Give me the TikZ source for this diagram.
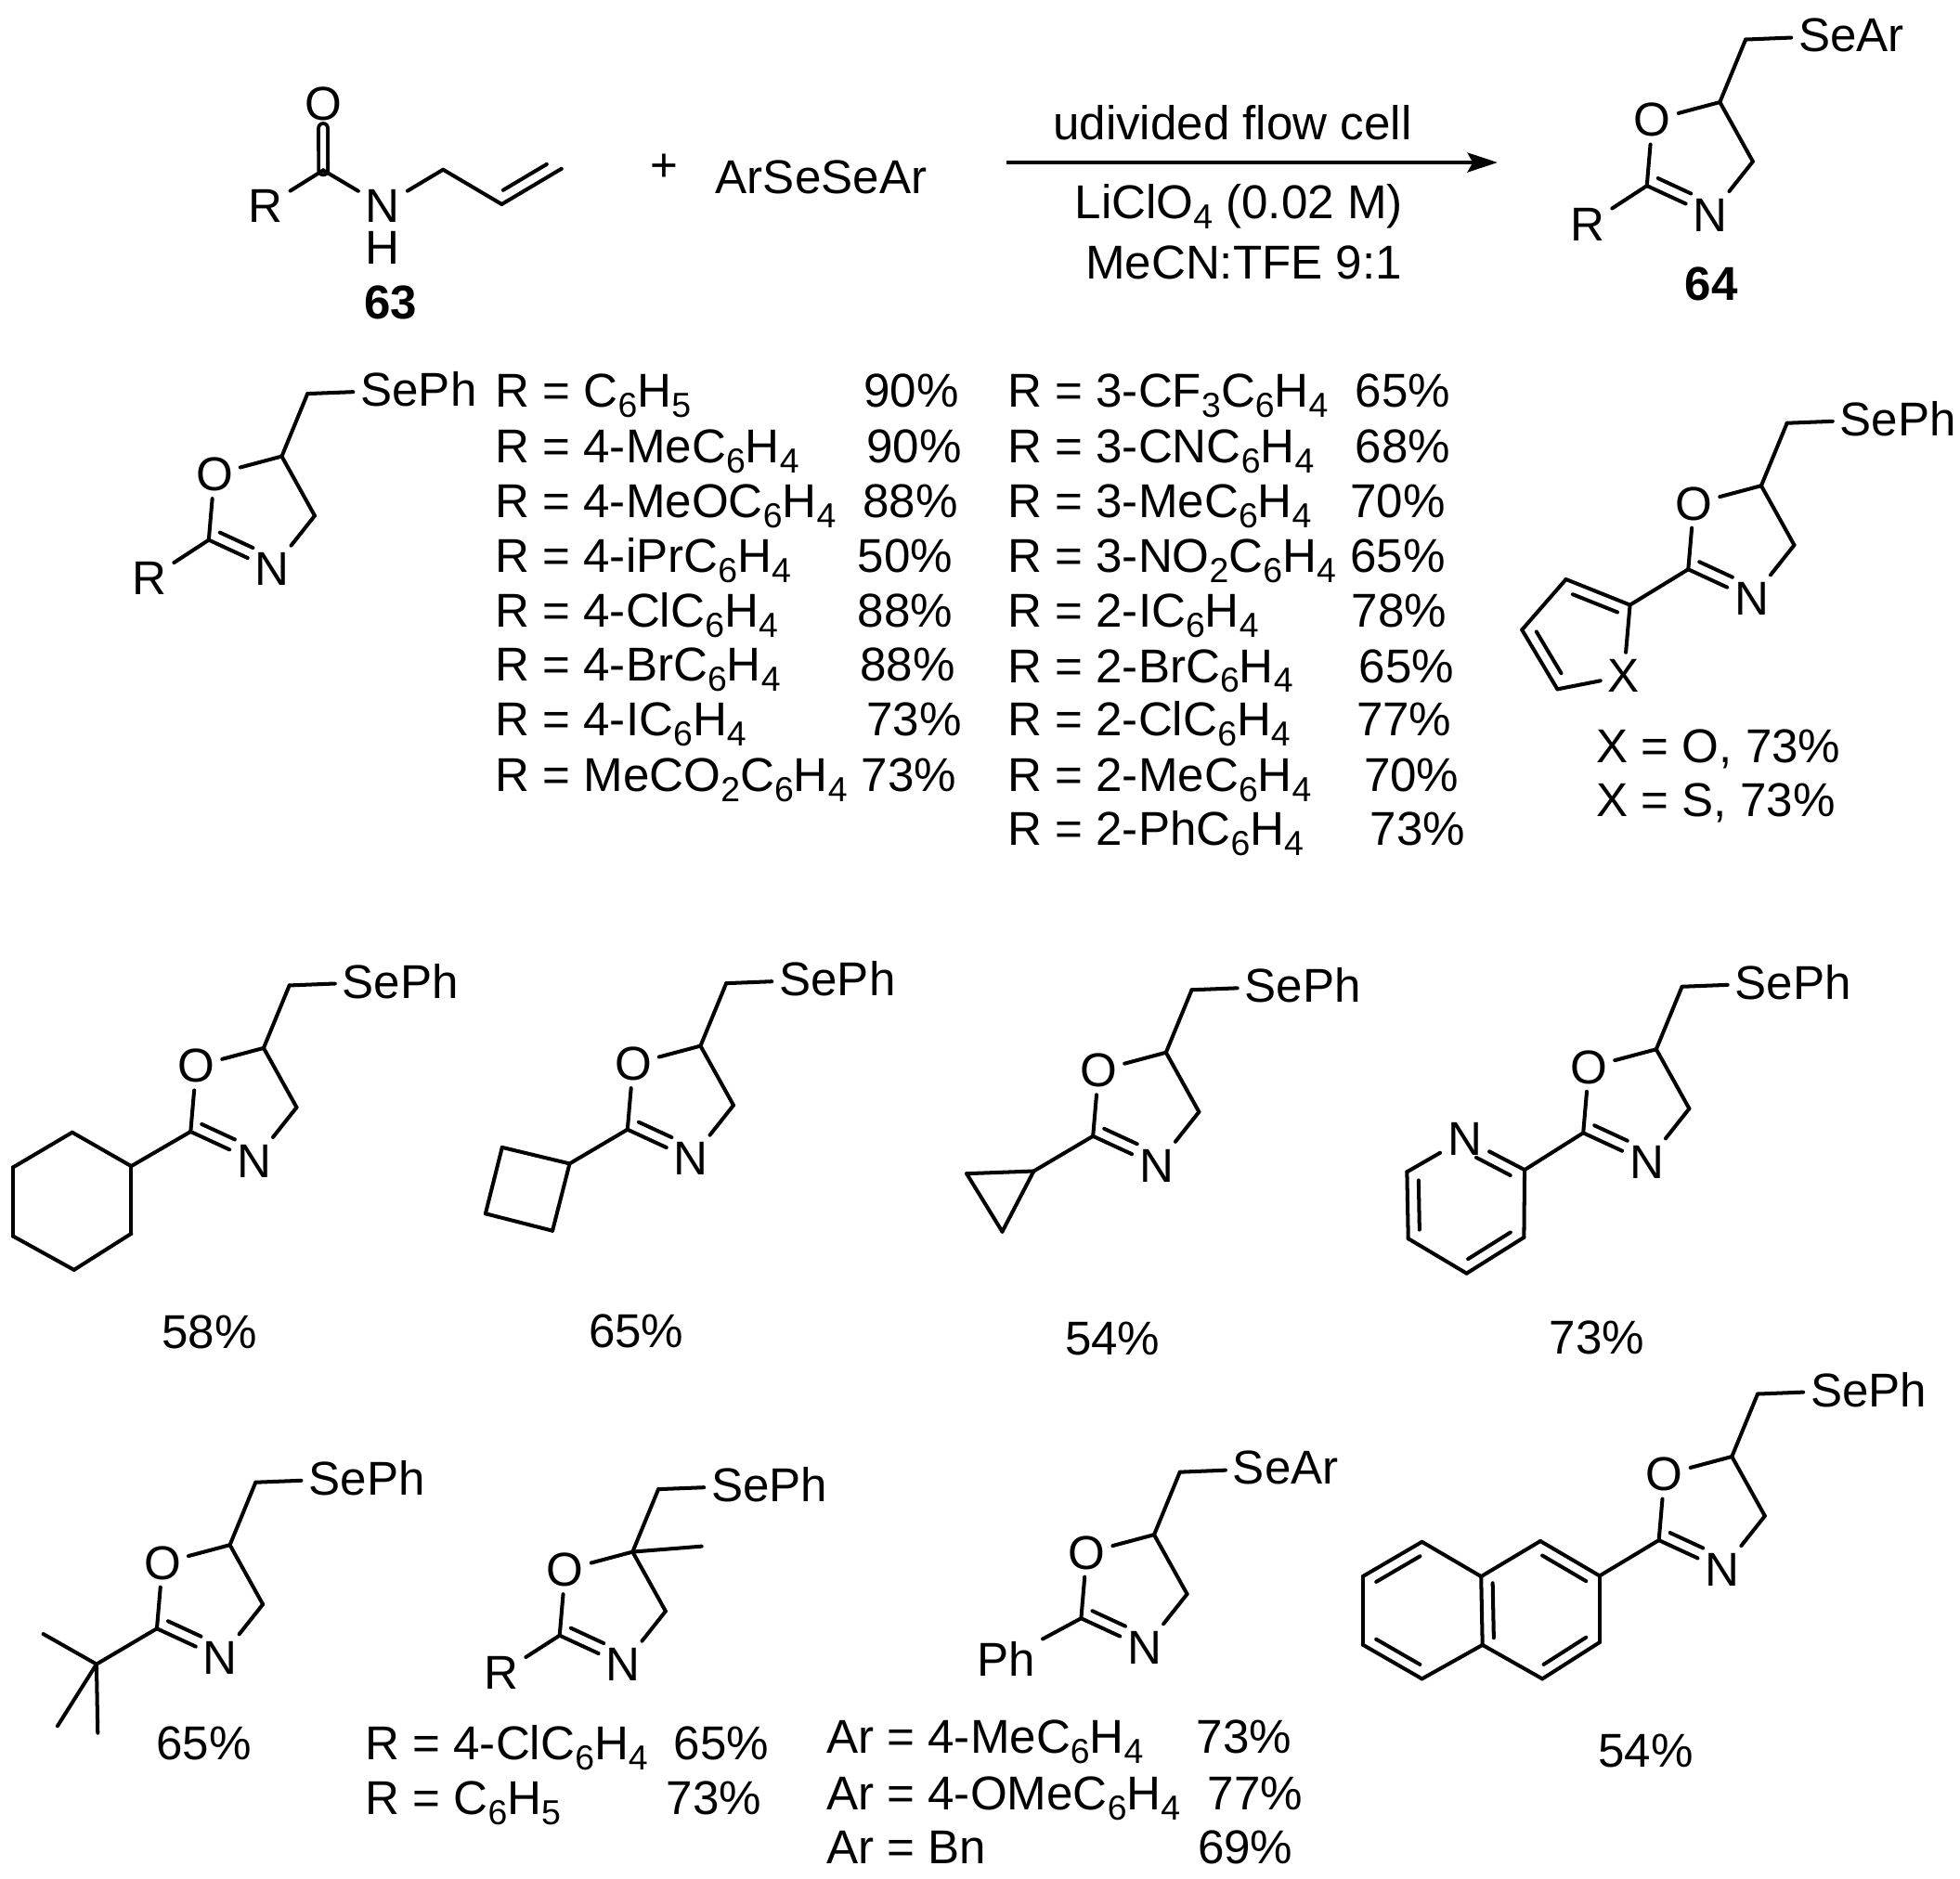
\documentclass[tikz,border=0pt]{standalone}
\usepackage{fontspec}
\setmainfont{Liberation Sans}
\usetikzlibrary{arrows.meta,calc}

\tikzset{
  bond/.style={line width=.85pt,line cap=round,line join=round},
  dblbond/.style={double,double distance=1.3pt,line width=.8pt},
  lab/.style={inner sep=0pt,anchor=base},
  labw/.style={inner sep=0pt,anchor=base west,xshift=-.015cm},
}

\newcommand{\sbs}[1]{\raisebox{-2.3pt}{\fontsize{7.9pt}{8pt}\selectfont #1}}
\newcommand{\innerbond}[4]{\draw[bond] ($(#1)!#3!(#2)!2.6pt!90:(#2)$) -- ($(#1)!#4!(#2)!2.6pt!90:(#2)$);}

% ring with its side chain, placed by the carbon between O and N
\newcommand{\oxazoline}[3]{
  \begin{scope}[shift={(#2)},name prefix=#1-]
    \coordinate (c2) at (0,0);
    \coordinate (c5) at (58.4,-66.9);
    \coordinate (c4) at (84.8,-19.4);
    \coordinate (ch) at (79,-117);
    \node (o) at (4.5,-52.5) {O};
    \node (n) at (50.8,23.5) {N};
    \node[anchor=west] (se) at (115.5,-120.5) {#3};
    \foreach \from/\to in {c2/o,o/c5,c5/c4,c4/n,c2/n,c5/ch,ch/se}
      \draw[bond] (\from) -- (\to);
    \innerbond{c2}{n}{.1}{.62}
  \end{scope}
}

\begin{document}
\begin{tikzpicture}
  [x=.01cm,y=-.01cm,every node/.style={inner sep=1.5pt,font=\fontsize{10.8pt}{13pt}\selectfont}]
  \useasboundingbox (0,0) rectangle (1568,1502.7);

  % reaction
  \coordinate (c1) at (258.6,136.2);
  \coordinate (c2) at (354.5,135.7);
  \coordinate (c3) at (401.4,163.4);
  \coordinate (c4) at (449.2,135);
  \node (o1) at (258.5,83) {O};
  \node (r1) at (212.5,165) {R};
  \node (n1) at (306.3,164.5) {N};
  \node[inner sep=0pt] (h1) at (306.3,198) {H};
  \draw[bond,dblbond] (o1) -- (c1);
  \foreach \from/\to in {c1/r1,c1/n1,n1/c2,c2/c3,c3/c4}
    \draw[bond] (\from) -- (\to);
  \innerbond{c3}{c4}{.12}{.85}
  \node[lab,font=\fontsize{10.8pt}{13pt}\selectfont\bfseries] (n63) at (312.5,255) {63};
  \node (plus) at (531.5,134) {+};
  \node[lab] (disel) at (657,155) {ArSeSeAr};

  \coordinate (arrowa) at (805,130);
  \coordinate (arrowb) at (1198,130);
  \draw[line width=1pt,-{Stealth[length=6.8pt,width=4.4pt,inset=1.2pt]}] (arrowa) -- (arrowb);
  \node[lab] (cond1) at (986,112) {udivided flow cell};
  \node[lab] (cond2) at (991,175) {LiClO\sbs{4} (0.02 M)};
  \node[lab] (cond3) at (995,223) {MeCN:TFE 9:1};

  \oxazoline{pr}{1317.5,148.6}{SeAr}
  \node (rpr) at (1270,179.6) {R};
  \draw[bond] (pr-c2) -- (rpr);
  \node[lab,font=\fontsize{10.8pt}{13pt}\selectfont\bfseries] (n64) at (1369,240) {64};

  % aryl series
  \oxazoline{ar}{167,432}{SePh}
  \node (rar) at (119.5,463) {R};
  \draw[bond] (ar-c2) -- (rar);

  \foreach \i/\y/\name/\px/\pct in {
    1/326/C\sbs{6}H\sbs{5}/692/90,
    2/370/4-MeC\sbs{6}H\sbs{4}/694/90,
    3/414/4-MeOC\sbs{6}H\sbs{4}/691/88,
    4/458/4-iPrC\sbs{6}H\sbs{4}/687/50,
    5/502/4-ClC\sbs{6}H\sbs{4}/687/88,
    6/545/4-BrC\sbs{6}H\sbs{4}/689/88,
    7/589/4-IC\sbs{6}H\sbs{4}/694/73,
    8/633/MeCO\sbs{2}C\sbs{6}H\sbs{4}/690/73}
    \node[labw] (la\i) at (397,\y) {R = \name}
      node[labw] (pa\i) at (\px,\y) {\pct\%};

  \foreach \i/\y/\name/\px/\pct in {
    1/326/3-CF\sbs{3}C\sbs{6}H\sbs{4}/1085/65,
    2/370/3-CNC\sbs{6}H\sbs{4}/1085/68,
    3/414/3-MeC\sbs{6}H\sbs{4}/1081/70,
    4/458/3-NO\sbs{2}C\sbs{6}H\sbs{4}/1081/65,
    5/502/2-IC\sbs{6}H\sbs{4}/1082/78,
    6/546/2-BrC\sbs{6}H\sbs{4}/1088/65,
    7/589/2-ClC\sbs{6}H\sbs{4}/1086/77,
    8/633/2-MeC\sbs{6}H\sbs{4}/1092/70,
    9/676/2-PhC\sbs{6}H\sbs{4}/1097/73}
    \node[labw] (lb\i) at (807,\y) {R = \name}
      node[labw] (pb\i) at (\px,\y) {\pct\%};

  % furan / thiophene
  \oxazoline{fu}{1350.6,455.5}{SePh}
  \coordinate (f1) at (1304,484);
  \coordinate (f2) at (1252.8,463.5);
  \coordinate (f3) at (1217.6,503.9);
  \coordinate (f4) at (1245.9,551.4);
  \node (fx) at (1299,541) {X};
  \foreach \from/\to in {fu-c2/f1,f1/f2,f2/f3,f3/f4,f4/fx,fx/f1}
    \draw[bond] (\from) -- (\to);
  \innerbond{f1}{f2}{.13}{.83}
  \innerbond{f3}{f4}{.13}{.83}
  \node[labw] (xo) at (1278,610) {X = O, 73\%};
  \node[labw] (xs) at (1278,653) {X = S, 73\%};

  % cyclohexyl
  \oxazoline{hx}{152.5,905.4}{SePh}
  \coordinate (h1) at (105,933);
  \coordinate (h2) at (57.8,906);
  \coordinate (h3) at (10.4,934);
  \coordinate (h4) at (10.4,989);
  \coordinate (h5) at (59.2,1016);
  \coordinate (h6) at (105,987);
  \foreach \from/\to in {hx-c2/h1,h1/h2,h2/h3,h3/h4,h4/h5,h5/h6,h6/h1}
    \draw[bond] (\from) -- (\to);
  \node[lab] (y1) at (167.5,1079) {58\%};

  % cyclobutyl
  \oxazoline{cb}{502,903.7}{SePh}
  \coordinate (b1) at (455.7,931);
  \coordinate (b2) at (401.7,918);
  \coordinate (b3) at (388.4,971);
  \coordinate (b4) at (442,984.7);
  \foreach \from/\to in {cb-c2/b1,b1/b2,b2/b3,b3/b4,b4/b1}
    \draw[bond] (\from) -- (\to);
  \node[lab] (y2) at (509,1078) {65\%};

  % cyclopropyl
  \oxazoline{cp}{874.4,909}{SePh}
  \coordinate (p1) at (827,937);
  \coordinate (p2) at (773.3,939);
  \coordinate (p3) at (801.8,985.4);
  \foreach \from/\to in {cp-c2/p1,p1/p2,p2/p3,p3/p1}
    \draw[bond] (\from) -- (\to);
  \node[lab] (y3) at (890,1084) {54\%};

  % pyridyl
  \oxazoline{py}{1266.6,906.4}{SePh}
  \coordinate (y1c) at (1219.7,936);
  \node (yn) at (1171.8,911) {N};
  \coordinate (y3c) at (1125.6,937.6);
  \coordinate (y4c) at (1126.6,991);
  \coordinate (y5c) at (1173.3,1018.8);
  \coordinate (y6c) at (1219.2,990);
  \foreach \from/\to in {py-c2/y1c,y1c/yn,yn/y3c,y3c/y4c,y4c/y5c,y5c/y6c,y6c/y1c}
    \draw[bond] (\from) -- (\to);
  \innerbond{y1c}{yn}{.15}{.72}
  \innerbond{y3c}{y4c}{.13}{.87}
  \innerbond{y5c}{y6c}{.13}{.87}
  \node[lab] (y4) at (1277.5,1083) {73\%};

  % tert-butyl
  \oxazoline{tb}{125.5,1303}{SePh}
  \coordinate (t0) at (77.2,1331.5);
  \coordinate (t1) at (34.6,1307.3);
  \coordinate (t2) at (46,1381);
  \coordinate (t3) at (78.2,1386.5);
  \foreach \from/\to in {tb-c2/t0,t0/t1,t0/t2,t0/t3}
    \draw[bond] (\from) -- (\to);
  \node[lab] (y5) at (163,1408) {65\%};

  % gem-methyl
  \oxazoline{me}{447.7,1308.5}{SePh}
  \coordinate (m1) at (561.3,1237.2);
  \node (rme) at (401,1338.5) {R};
  \foreach \from/\to in {me-c5/m1,me-c2/rme}
    \draw[bond] (\from) -- (\to);
  \node[labw] (lc1) at (293,1408) {R = 4-ClC\sbs{6}H\sbs{4}};
  \node[labw] (pc1) at (540,1408) {65\%};
  \node[labw] (lc2) at (293,1452) {R = C\sbs{6}H\sbs{5}};
  \node[labw] (pc2) at (534,1452) {73\%};

  % varied selenide
  \oxazoline{ph}{864.9,1294.8}{SeAr}
  \node (rph) at (805,1327) {Ph};
  \draw[bond] (ph-c2) -- (rph);
  \node[labw] (ld1) at (662,1403) {Ar = 4-MeC\sbs{6}H\sbs{4}};
  \node[labw] (pd1) at (958,1403) {73\%};
  \node[labw] (ld2) at (662,1448) {Ar = 4-OMeC\sbs{6}H\sbs{4}};
  \node[labw] (pd2) at (967,1448) {77\%};
  \node[labw] (ld3) at (662,1491) {Ar = Bn};
  \node[labw] (pd3) at (959,1491) {69\%};

  % naphthyl
  \oxazoline{na}{1327.1,1232.3}{SePh}
  \coordinate (a1) at (1232.3,1233);
  \coordinate (a2) at (1279.7,1260.8);
  \coordinate (a3) at (1279.7,1314);
  \coordinate (a4) at (1233.9,1343.2);
  \coordinate (a5) at (1186,1316.1);
  \coordinate (a6) at (1184.9,1261.3);
  \coordinate (a7) at (1137.6,1233.6);
  \coordinate (a8) at (1090.2,1261.3);
  \coordinate (a9) at (1090.2,1315.9);
  \coordinate (a10) at (1137.6,1343.2);
  \foreach \from/\to in {na-c2/a2,a1/a2,a2/a3,a3/a4,a4/a5,a5/a6,a6/a1,a6/a7,a7/a8,a8/a9,a9/a10,a10/a5}
    \draw[bond] (\from) -- (\to);
  \innerbond{a2}{a1}{.13}{.87}
  \innerbond{a4}{a3}{.13}{.87}
  \innerbond{a6}{a5}{.1}{.9}
  \innerbond{a7}{a8}{.13}{.87}
  \innerbond{a9}{a10}{.13}{.87}
  \node[lab] (y6) at (1316.5,1414) {54\%};
\end{tikzpicture}
\end{document}
